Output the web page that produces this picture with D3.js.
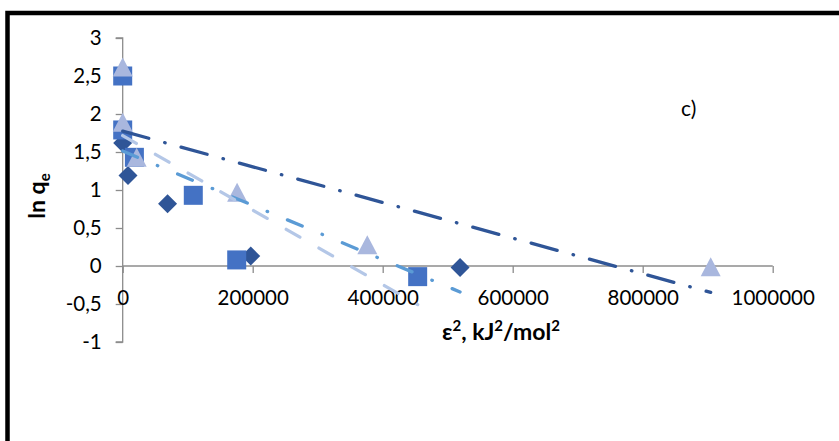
<!DOCTYPE html>
<html>
<head>
<meta charset="utf-8">
<script src="https://cdn.jsdelivr.net/npm/d3@7"></script>
<style>
  body { margin: 0; background: #fff; }
  svg { display: block; font-family: Lato, "Open Sans", sans-serif; }
</style>
</head>
<body>
<div id="chart"></div>
<script>
// series values: [x = eps^2, y = ln qe]
const diamondPts = [[0, 2.5], [0, 1.62], [8200, 1.19], [69000, 0.82], [197000, 0.13], [519000, -0.02]];
const squarePts = [[0, 2.5], [0, 1.79], [18000, 1.43], [108600, 0.93], [175400, 0.08], [453800, -0.14]];
const trianglePts = [[0, 2.62], [0, 1.89], [21500, 1.43], [176000, 0.97], [376300, 0.28], [904600, -0.01]];

const xTicks = [0, 200000, 400000, 600000, 800000, 1000000];
const yTicks = [-1, -0.5, 0, 0.5, 1, 1.5, 2, 2.5, 3];

const width = 839, height = 441;

const svg = d3.select("#chart").append("svg")
  .attr("width", width)
  .attr("height", height);

// frame round the chart
svg.append("rect")
  .attr("x", 7.5).attr("y", 13)
  .attr("width", 900).attr("height", 500)
  .attr("fill", "none")
  .attr("stroke", "#000")
  .attr("stroke-width", 4.5);

const x = d3.scaleLinear().domain([0, 1000000]).range([122.7, 772.7]);
const y = d3.scaleLinear().domain([-1, 3]).range([342, 38]);

const comma = d3.formatLocale({ decimal: ",", thousands: "", grouping: [3], currency: ["", ""], minus: "-" });
const fmtY = comma.format("");

const axisColor = "#8c8c8c";

// y axis
const gy = svg.append("g")
  .attr("transform", `translate(${x(0)},0)`)
  .call(d3.axisLeft(y).tickValues(yTicks).tickSize(7).tickPadding(14).tickFormat(fmtY));
// x axis crosses at y = 0
const gx = svg.append("g")
  .attr("transform", `translate(0,${y(0)})`)
  .call(d3.axisBottom(x).tickValues(xTicks).tickSize(7).tickPadding(17).tickFormat(comma.format("d")));

[gx, gy].forEach(g => {
  g.select(".domain").attr("stroke", axisColor).attr("stroke-width", 1.3);
  g.selectAll(".tick line").attr("stroke", axisColor).attr("stroke-width", 1.3);
  g.selectAll(".tick text")
    .attr("fill", "#000")
    .attr("font-family", "Lato, sans-serif")
    .attr("font-size", 20.5);
});
gy.select(".domain").attr("d", `M-7,${y(3)}H0V${y(-1)}H-7`);
gx.select(".domain").attr("d", `M${x(0)},0H${x(1000000)}`);

// marker shapes in the spreadsheet style
const diamondSym = {
  draw(ctx, size) {
    const r = Math.sqrt(size) / 2;
    ctx.moveTo(0, -r); ctx.lineTo(r, 0); ctx.lineTo(0, r); ctx.lineTo(-r, 0); ctx.closePath();
  }
};
const triangleSym = {
  draw(ctx, size) {
    const r = Math.sqrt(size) / 2;
    ctx.moveTo(0, -r * 0.95); ctx.lineTo(r, r * 0.95); ctx.lineTo(-r, r * 0.95); ctx.closePath();
  }
};

const series = [
  { pts: diamondPts, sym: diamondSym, size: 19 * 19, color: "#2F5597",
    line: "#5B9BD5", dash: "16,21.5,0.5,21.5" },
  { pts: squarePts, sym: d3.symbolSquare, size: 19 * 19, color: "#4472C4",
    line: "#B4C7E7", dash: "15.7,22" },
  { pts: trianglePts, sym: triangleSym, size: 20 * 20, color: "#A9B7DE",
    line: "#2F5597", dash: "27,16.5,0.5,16.5" }
];

// markers
series.forEach(s => {
  svg.append("g")
    .selectAll("path")
    .data(s.pts)
    .join("path")
    .attr("transform", d => `translate(${x(d[0])},${y(d[1])})`)
    .attr("d", d3.symbol().type(s.sym).size(s.size))
    .attr("fill", s.color);
});

// linear trendlines, least squares over each series' x range
function fit(pts) {
  const mx = d3.mean(pts, d => d[0]), my = d3.mean(pts, d => d[1]);
  const sxy = d3.sum(pts, d => (d[0] - mx) * (d[1] - my));
  const sxx = d3.sum(pts, d => (d[0] - mx) ** 2);
  const b = sxy / sxx, a = my - b * mx;
  const [x0, x1] = d3.extent(pts, d => d[0]);
  return [[x0, a + b * x0], [x1, a + b * x1]];
}

const line = d3.line().x(d => x(d[0])).y(d => y(d[1]));
series.forEach(s => {
  svg.append("path")
    .datum(fit(s.pts))
    .attr("d", line)
    .attr("fill", "none")
    .attr("stroke", s.line)
    .attr("stroke-width", 3.3)
    .attr("stroke-linecap", "round")
    .attr("stroke-dasharray", s.dash);
});

// axis titles
const yt = svg.append("text")
  .attr("transform", "translate(45,196) rotate(-90)")
  .attr("text-anchor", "middle")
  .attr("font-size", 23)
  .attr("font-weight", "bold");
yt.append("tspan").text("ln q");
yt.append("tspan").attr("font-size", 15).attr("dy", 5).text("e");

const xt = svg.append("text")
  .attr("x", 501).attr("y", 340)
  .attr("text-anchor", "middle")
  .attr("font-size", 23)
  .attr("font-weight", "bold");
[["ε", 0], ["2", 1], [", kJ", 0], ["2", 1], ["/mol", 0], ["2", 1]].forEach(([t, sup]) => {
  xt.append("tspan")
    .attr("font-size", sup ? 15 : 23)
    .attr("baseline-shift", sup ? "60%" : null)
    .text(t);
});

svg.append("text")
  .attr("x", 681).attr("y", 116)
  .attr("font-size", 21)
  .text("c)");
</script>
</body>
</html>
